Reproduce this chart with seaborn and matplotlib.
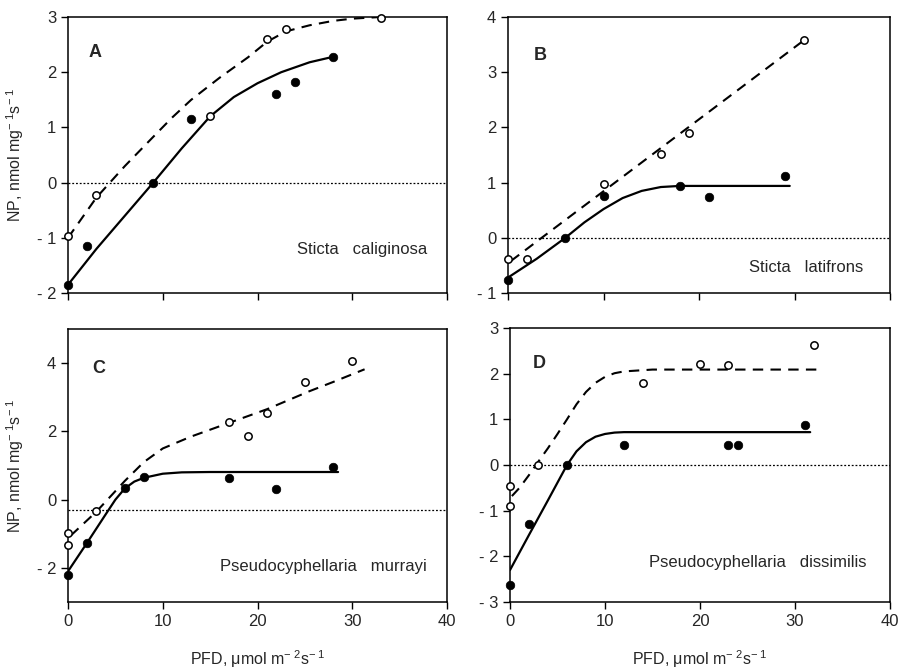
"""
Net photosynthesis (NP) vs photon flux density (PFD) for four lichen species.
Open circles / dashed = one treatment, filled circles / solid = the other.
"""

import matplotlib
matplotlib.use("Agg")
import matplotlib.pyplot as plt
import seaborn as sns

# ---- Panel A: Sticta caliginosa ----
a_open_x = [0, 3, 15, 21, 23, 33]
a_open_y = [-0.97, -0.23, 1.2, 2.6, 2.78, 2.98]
a_fill_x = [0, 2, 9, 13, 22, 24, 28]
a_fill_y = [-1.85, -1.15, 0.0, 1.15, 1.6, 1.83, 2.28]
a_dash_x = [0, 3, 6, 9, 11, 13, 16, 19, 21, 23, 25.5, 28, 30, 33]
a_dash_y = [-1.0, -0.27, 0.3, 0.83, 1.18, 1.5, 1.9, 2.27, 2.55, 2.74, 2.85, 2.93, 2.97, 3.0]
a_solid_x = [0, 3, 6, 9, 12, 15, 17.5, 20, 22.5, 25.5, 28]
a_solid_y = [-1.85, -1.2, -0.6, 0.0, 0.62, 1.2, 1.55, 1.8, 2.0, 2.18, 2.28]

# ---- Panel B: Sticta latifrons ----
b_open_x = [0, 2, 10, 16, 19, 31]
b_open_y = [-0.39, -0.38, 0.98, 1.52, 1.9, 3.58]
b_fill_x = [0, 6, 10, 18, 21, 29]
b_fill_y = [-0.76, 0.0, 0.76, 0.94, 0.74, 1.12]
b_dash_x = [0.3, 31]
b_dash_y = [-0.42, 3.58]
b_solid_x = [0, 3, 6, 8, 10, 12, 14, 16, 18, 29.5]
b_solid_y = [-0.72, -0.38, 0.0, 0.28, 0.52, 0.72, 0.85, 0.92, 0.94, 0.94]

# ---- Panel C: Pseudocyphellaria murrayi ----
c_open_x = [0, 0, 3, 17, 19, 21, 25, 30]
c_open_y = [-0.98, -1.32, -0.32, 2.27, 1.87, 2.54, 3.45, 4.05]
c_fill_x = [0, 2, 6, 8, 17, 22, 28]
c_fill_y = [-2.2, -1.27, 0.34, 0.65, 0.63, 0.32, 0.96]
c_dash_x = [0.3, 3, 6, 8, 10, 13, 17, 21, 25.5, 28, 31.3]
c_dash_y = [-1.05, -0.35, 0.55, 1.1, 1.5, 1.85, 2.25, 2.65, 3.18, 3.45, 3.82]
c_solid_x = [0, 2, 4, 5, 6, 7, 8, 10, 12, 15, 28.5]
c_solid_y = [-2.1, -1.27, -0.42, 0.0, 0.33, 0.53, 0.64, 0.76, 0.8, 0.81, 0.81]
c_base = -0.31

# ---- Panel D: Pseudocyphellaria dissimilis ----
d_open_x = [0, 0, 3, 14, 20, 23, 32]
d_open_y = [-0.45, -0.9, 0.0, 1.8, 2.22, 2.2, 2.62]
d_fill_x = [0, 2, 6, 12, 23, 24, 31]
d_fill_y = [-2.63, -1.29, 0.0, 0.43, 0.43, 0.43, 0.87]
d_dash_x = [0.2, 1, 2, 3, 4, 5, 6, 7, 8, 9, 10, 11, 12, 15, 33]
d_dash_y = [-0.68, -0.5, -0.22, 0.08, 0.37, 0.68, 1.0, 1.33, 1.6, 1.8, 1.93, 2.01, 2.05, 2.09, 2.09]
d_solid_x = [0, 2, 4, 6, 7, 8, 9, 10, 11, 12, 31.6]
d_solid_y = [-2.3, -1.53, -0.77, 0.0, 0.3, 0.5, 0.62, 0.68, 0.71, 0.72, 0.72]

panels = [
    dict(tag="A", name="Sticta   caliginosa", ylim=(-2, 3), yticks=[-2, -1, 0, 1, 2, 3], base=0.0,
         tagpos=(0.071, 0.873), namepos=(0.947, 0.156),
         ox=a_open_x, oy=a_open_y, fx=a_fill_x, fy=a_fill_y,
         dx=a_dash_x, dy=a_dash_y, sx=a_solid_x, sy=a_solid_y),
    dict(tag="B", name="Sticta   latifrons", ylim=(-1, 4), yticks=[-1, 0, 1, 2, 3, 4], base=0.0,
         tagpos=(0.084, 0.862), namepos=(0.93, 0.094),
         ox=b_open_x, oy=b_open_y, fx=b_fill_x, fy=b_fill_y,
         dx=b_dash_x, dy=b_dash_y, sx=b_solid_x, sy=b_solid_y),
    dict(tag="C", name="Pseudocyphellaria   murrayi", ylim=(-3, 5), yticks=[-2, 0, 2, 4], base=c_base,
         tagpos=(0.082, 0.857), namepos=(0.947, 0.13),
         ox=c_open_x, oy=c_open_y, fx=c_fill_x, fy=c_fill_y,
         dx=c_dash_x, dy=c_dash_y, sx=c_solid_x, sy=c_solid_y),
    dict(tag="D", name="Pseudocyphellaria   dissimilis", ylim=(-3, 3), yticks=[-3, -2, -1, 0, 1, 2, 3], base=0.0,
         tagpos=(0.076, 0.872), namepos=(0.937, 0.146),
         ox=d_open_x, oy=d_open_y, fx=d_fill_x, fy=d_fill_y,
         dx=d_dash_x, dy=d_dash_y, sx=d_solid_x, sy=d_solid_y),
]

sns.set_style("ticks")
plt.rcParams['font.family'] = ['Liberation Sans', 'DejaVu Sans']
plt.rcParams['mathtext.fontset'] = 'custom'
plt.rcParams['mathtext.rm'] = 'Liberation Sans'
plt.rcParams['mathtext.it'] = 'Liberation Sans'

fig = plt.figure(figsize=(9.02, 6.69), dpi=100)
rects = [
    [0.0754, 0.5620, 0.4202, 0.4126],
    [0.5632, 0.5620, 0.4235, 0.4126],
    [0.0754, 0.1001, 0.4202, 0.4081],
    [0.5654, 0.1001, 0.4213, 0.4096],
]

ylab = r"NP, nmol mg$^{-\ 1}$s$^{-\ 1}$"
xlab = r"PFD, $\mu$mol m$^{-\ 2}$s$^{-\ 1}$"

for i, (p, r) in enumerate(zip(panels, rects)):
    ax = fig.add_axes(r)
    ax.axhline(p["base"], color="black", lw=0.9, ls=(0, (1.5, 1.5)), zorder=1)
    sns.lineplot(x=p["dx"], y=p["dy"], ax=ax, color="black", lw=1.5,
                 linestyle=(0, (5, 3.5)), sort=False, estimator=None, zorder=2)
    sns.lineplot(x=p["sx"], y=p["sy"], ax=ax, color="black", lw=1.6,
                 sort=False, estimator=None, zorder=2)
    sns.scatterplot(x=p["ox"], y=p["oy"], ax=ax, marker="o", s=28,
                    facecolor="white", edgecolor="black", linewidth=1.1,
                    zorder=3, clip_on=False)
    sns.scatterplot(x=p["fx"], y=p["fy"], ax=ax, marker="o", s=38,
                    color="black", edgecolor="black", linewidth=0.5,
                    zorder=3, clip_on=False)

    ax.set_xlim(0, 40)
    ax.set_ylim(*p["ylim"])
    ax.set_xticks([0, 10, 20, 30, 40])
    ax.set_yticks(p["yticks"])
    ax.set_yticklabels([f"- {abs(v)}" if v < 0 else str(v) for v in p["yticks"]])
    ax.tick_params(direction="out", length=5, width=1, labelsize=12, color="black")
    for sp in ax.spines.values():
        sp.set_linewidth(1.1)
        sp.set_color("black")

    if i < 2:
        ax.set_xticklabels([])
    else:
        ax.set_xlabel(xlab, fontsize=11.5, labelpad=14)
    if i % 2 == 0:
        ax.set_ylabel(ylab, fontsize=11.5, labelpad=8)

    ax.text(*p["tagpos"], p["tag"], transform=ax.transAxes, fontsize=13,
            fontweight="bold", ha="center", va="center")
    ax.text(*p["namepos"], p["name"], transform=ax.transAxes, fontsize=12,
            ha="right", va="center")

plt.savefig("out.png", dpi=100)
plt.close()
